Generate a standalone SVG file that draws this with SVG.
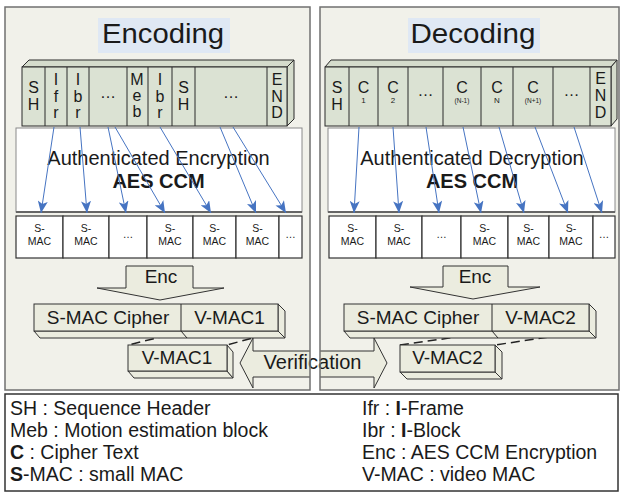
<svg xmlns="http://www.w3.org/2000/svg" width="621" height="492" viewBox="0 0 621 492">
<defs>
<style>
text{font-family:"Liberation Sans",Arial,sans-serif;fill:#1a1a1a}
.panel{fill:#f1f1ea}
.pborder{fill:none;stroke:#707070;stroke-width:1.5}
.title{fill:#dfe8f4}
.tt{font-size:27px;text-anchor:middle}
.cell{fill:#dbe2d3;stroke:#2b2b2b;stroke-width:1}
.face{fill:#d5dccc;stroke:#2b2b2b;stroke-width:1}
.div{stroke:#2b2b2b;stroke-width:1}
.cl{font-size:16px;text-anchor:middle}
.sub{font-size:8px;text-anchor:middle}
.sub2{font-size:6.5px;text-anchor:middle}
.aes{fill:#fff;stroke:#8a8a8a;stroke-width:1}
.aesb{stroke:#666;stroke-width:2}
.at{font-size:20px;text-anchor:middle}
.ab{font-size:20px;font-weight:bold;text-anchor:middle}
.mac{fill:#fff;stroke:#333;stroke-width:1.2}
.mt{font-size:10.5px;text-anchor:middle}
.conn{stroke:#4674c2;stroke-width:1;fill:none;marker-end:url(#ah)}
.big{fill:#ebecdf;stroke:#333;stroke-width:1}
.bt{font-size:19px;text-anchor:middle}
.dash{stroke:#222;stroke-width:1.5;stroke-dasharray:9 5;fill:none}
.leg{font-size:19.5px}
.legbox{fill:#fff;stroke:#333;stroke-width:1.5}
</style>
<marker id="ah" viewBox="0 0 12 10" refX="12" refY="5" markerWidth="12" markerHeight="10" markerUnits="userSpaceOnUse" orient="auto">
<path d="M0,0 L12,5 L0,10 L3,5 z" fill="#4674c2"/>
</marker>
<clipPath id="gapclip">
<rect x="0" y="0" width="310" height="492"/>
<rect x="320" y="0" width="301" height="492"/>
</clipPath>
</defs>

<rect x="0" y="0" width="621" height="492" fill="#fff"/>

<g id="panels-bg">
<rect class="panel" x="5" y="7" width="305" height="383"/>
<rect class="panel" x="320" y="7" width="299" height="383"/>
</g>

<g id="verification">
<polygon class="big" clip-path="url(#gapclip)" points="240,363 253,338 253,351 374,351 374,338 387,363 374,388 374,377 253,377 253,388"/>
<text class="bt" x="312.5" y="369" style="font-size:20px">Verification</text>
</g>

<g id="panels-border">
<rect class="pborder" x="5" y="7" width="305" height="383"/>
<rect class="pborder" x="320" y="7" width="299" height="383"/>
</g>

<g id="title-encoding">
<rect class="title" x="98" y="18" width="132" height="35"/>
<text class="tt" x="163" y="43" textLength="122" lengthAdjust="spacingAndGlyphs">Encoding</text>
</g>
<g id="title-decoding">
<rect class="title" x="408" y="18" width="132" height="35"/>
<text class="tt" x="473" y="43" textLength="125" lengthAdjust="spacingAndGlyphs">Decoding</text>
</g>

<g id="enc-stream">
<polygon class="face" points="22,67 29,60 294,60 287,67"/>
<polygon class="face" points="287,67 294,60 294,119 287,126"/>
<rect class="cell" x="22" y="67" width="265" height="59"/>
<line class="div" x1="45" y1="67" x2="45" y2="126"/>
<line class="div" x1="67" y1="67" x2="67" y2="126"/>
<line class="div" x1="89" y1="67" x2="89" y2="126"/>
<line class="div" x1="127" y1="67" x2="127" y2="126"/>
<line class="div" x1="148" y1="67" x2="148" y2="126"/>
<line class="div" x1="172" y1="67" x2="172" y2="126"/>
<line class="div" x1="195" y1="67" x2="195" y2="126"/>
<line class="div" x1="267" y1="67" x2="267" y2="126"/>
<text class="cl" x="33.5" y="93">S</text><text class="cl" x="33.5" y="110">H</text>
<text class="cl" x="56" y="85">I</text><text class="cl" x="56" y="102">f</text><text class="cl" x="56" y="118">r</text>
<text class="cl" x="78" y="85">I</text><text class="cl" x="78" y="102">b</text><text class="cl" x="78" y="118">r</text>
<text class="cl" x="108" y="98">…</text>
<text class="cl" x="137" y="85">M</text><text class="cl" x="137" y="101">e</text><text class="cl" x="137" y="117">b</text>
<text class="cl" x="160" y="85">I</text><text class="cl" x="160" y="102">b</text><text class="cl" x="160" y="118">r</text>
<text class="cl" x="183.5" y="93">S</text><text class="cl" x="183.5" y="110">H</text>
<text class="cl" x="231" y="98">…</text>
<text class="cl" x="277" y="85">E</text><text class="cl" x="277" y="102">N</text><text class="cl" x="277" y="118">D</text>
</g>

<g id="dec-stream">
<polygon class="face" points="325,67 331,60 617,60 611,67"/>
<polygon class="face" points="611,67 617,60 617,119 611,126"/>
<rect class="cell" x="325" y="67" width="286" height="59"/>
<line class="div" x1="349" y1="67" x2="349" y2="126"/>
<line class="div" x1="378" y1="67" x2="378" y2="126"/>
<line class="div" x1="408" y1="67" x2="408" y2="126"/>
<line class="div" x1="443" y1="67" x2="443" y2="126"/>
<line class="div" x1="481" y1="67" x2="481" y2="126"/>
<line class="div" x1="513" y1="67" x2="513" y2="126"/>
<line class="div" x1="553" y1="67" x2="553" y2="126"/>
<line class="div" x1="590" y1="67" x2="590" y2="126"/>
<text class="cl" x="337" y="93">S</text><text class="cl" x="337" y="110">H</text>
<text class="cl" x="363.5" y="93">C</text><text class="sub" x="363.5" y="103">1</text>
<text class="cl" x="393" y="93">C</text><text class="sub" x="393" y="103">2</text>
<text class="cl" x="425.5" y="96">…</text>
<text class="cl" x="462" y="93">C</text><text class="sub2" x="462" y="103">(N-1)</text>
<text class="cl" x="497" y="93">C</text><text class="sub" x="497" y="103">N</text>
<text class="cl" x="533" y="93">C</text><text class="sub2" x="533" y="103">(N+1)</text>
<text class="cl" x="571.5" y="96">…</text>
<text class="cl" x="600.5" y="84">E</text><text class="cl" x="600.5" y="101">N</text><text class="cl" x="600.5" y="118">D</text>
</g>

<g id="aes-enc">
<rect class="aes" x="16" y="128" width="286" height="84"/>
<line class="aesb" x1="16" y1="212" x2="302" y2="212"/>
<text class="at" x="158.5" y="165">Authenticated Encryption</text>
<text class="ab" x="158.5" y="188">AES CCM</text>
</g>
<g id="aes-dec">
<rect class="aes" x="328" y="128" width="287" height="84"/>
<line class="aesb" x1="328" y1="212" x2="615" y2="212"/>
<text class="at" x="472" y="165">Authenticated Decryption</text>
<text class="ab" x="472" y="188">AES CCM</text>
</g>

<g id="smac-enc">
<rect class="mac" x="16" y="216" width="47" height="42"/>
<rect class="mac" x="63" y="216" width="46" height="42"/>
<rect class="mac" x="109" y="216" width="38" height="42"/>
<rect class="mac" x="147" y="216" width="46" height="42"/>
<rect class="mac" x="193" y="216" width="43" height="42"/>
<rect class="mac" x="236" y="216" width="43" height="42"/>
<rect class="mac" x="279" y="216" width="23" height="42"/>
<text class="mt" x="39.5" y="232">S-</text><text class="mt" x="39.5" y="245">MAC</text>
<text class="mt" x="86" y="232">S-</text><text class="mt" x="86" y="245">MAC</text>
<text class="mt" x="128" y="238">…</text>
<text class="mt" x="170" y="232">S-</text><text class="mt" x="170" y="245">MAC</text>
<text class="mt" x="214.5" y="232">S-</text><text class="mt" x="214.5" y="245">MAC</text>
<text class="mt" x="257.5" y="232">S-</text><text class="mt" x="257.5" y="245">MAC</text>
<text class="mt" x="290.5" y="238">…</text>
</g>
<g id="smac-dec">
<rect class="mac" x="329" y="216" width="47" height="42"/>
<rect class="mac" x="376" y="216" width="46" height="42"/>
<rect class="mac" x="422" y="216" width="39" height="42"/>
<rect class="mac" x="461" y="216" width="47" height="42"/>
<rect class="mac" x="508" y="216" width="41" height="42"/>
<rect class="mac" x="549" y="216" width="44" height="42"/>
<rect class="mac" x="593" y="216" width="22" height="42"/>
<text class="mt" x="352.5" y="232">S-</text><text class="mt" x="352.5" y="245">MAC</text>
<text class="mt" x="399" y="232">S-</text><text class="mt" x="399" y="245">MAC</text>
<text class="mt" x="441.5" y="238">…</text>
<text class="mt" x="484.5" y="232">S-</text><text class="mt" x="484.5" y="245">MAC</text>
<text class="mt" x="528.5" y="232">S-</text><text class="mt" x="528.5" y="245">MAC</text>
<text class="mt" x="571" y="232">S-</text><text class="mt" x="571" y="245">MAC</text>
<text class="mt" x="604" y="238">…</text>
</g>

<g id="connectors">
<line class="conn" x1="54" y1="127" x2="41" y2="213"/>
<line class="conn" x1="80" y1="127" x2="87" y2="213"/>
<line class="conn" x1="108" y1="127" x2="126" y2="213"/>
<line class="conn" x1="115" y1="127" x2="165" y2="213"/>
<line class="conn" x1="160" y1="127" x2="211" y2="213"/>
<line class="conn" x1="220" y1="127" x2="256" y2="213"/>
<line class="conn" x1="233" y1="127" x2="286" y2="213"/>
<line class="conn" x1="359" y1="127" x2="354" y2="213"/>
<line class="conn" x1="393" y1="127" x2="399" y2="213"/>
<line class="conn" x1="426" y1="127" x2="439" y2="213"/>
<line class="conn" x1="463" y1="127" x2="481" y2="213"/>
<line class="conn" x1="499" y1="127" x2="524" y2="213"/>
<line class="conn" x1="535" y1="127" x2="568" y2="213"/>
<line class="conn" x1="574" y1="127" x2="602" y2="213"/>
<path class="dash" d="M181,332 L128,345 M278,331 L227,345"/>
<path class="dash" d="M492,332 L400,345 M589,331 L495,345"/>
</g>

<g id="enc-arrow-left">
<polygon class="big" points="126,266 193,266 193,288 224,288 160,300 97,288 126,288"/>
<text class="bt" x="161" y="283">Enc</text>
</g>
<g id="enc-arrow-right">
<polygon class="big" points="443,266 508,266 508,287 540,287 473,299 410,287 443,287"/>
<text class="bt" x="475" y="283">Enc</text>
</g>

<g id="cipher-enc">
<polygon class="big" points="34,331 40,338 285,338 278,331"/>
<polygon class="big" points="278,304 285,311 285,338 278,331"/>
<rect class="big" x="34" y="304" width="244" height="27"/>
<line class="div" x1="181" y1="304" x2="181" y2="331"/>
<line class="div" x1="181" y1="331" x2="187" y2="338"/>
<text class="bt" x="108" y="323.5">S-MAC Cipher</text>
<text class="bt" x="229.5" y="323.5">V-MAC1</text>
</g>
<g id="vmac1">
<polygon class="big" points="128,371 134,378 233,378 227,371"/>
<polygon class="big" points="227,345 233,352 233,378 227,371"/>
<rect class="big" x="128" y="345" width="99" height="26"/>
<text class="bt" x="177" y="364">V-MAC1</text>
</g>

<g id="cipher-dec">
<polygon class="big" points="344,331 350,338 596,338 589,331"/>
<polygon class="big" points="589,304 596,311 596,338 589,331"/>
<rect class="big" x="344" y="304" width="245" height="27"/>
<line class="div" x1="492" y1="304" x2="492" y2="331"/>
<line class="div" x1="492" y1="331" x2="498" y2="338"/>
<text class="bt" x="418" y="323.5">S-MAC Cipher</text>
<text class="bt" x="540.5" y="323.5">V-MAC2</text>
</g>
<g id="vmac2">
<polygon class="big" points="400,372 407,379 502,379 495,372"/>
<polygon class="big" points="495,345 502,352 502,379 495,372"/>
<rect class="big" x="400" y="345" width="95" height="27"/>
<text class="bt" x="447.5" y="364">V-MAC2</text>
</g>

<g id="legend">
<rect class="legbox" x="5" y="394" width="613" height="97"/>
<text class="leg" x="10" y="415">SH : Sequence Header</text>
<text class="leg" x="10" y="437">Meb : Motion estimation block</text>
<text class="leg" x="10" y="459"><tspan font-weight="bold">C</tspan> : Cipher Text</text>
<text class="leg" x="10" y="481"><tspan font-weight="bold">S</tspan>-MAC : small MAC</text>
<text class="leg" x="362" y="415">Ifr : <tspan font-weight="bold">I</tspan>-Frame</text>
<text class="leg" x="362" y="437">Ibr : <tspan font-weight="bold">I</tspan>-Block</text>
<text class="leg" x="362" y="459">Enc : AES CCM Encryption</text>
<text class="leg" x="362" y="481">V-MAC : video MAC</text>
</g>
</svg>
